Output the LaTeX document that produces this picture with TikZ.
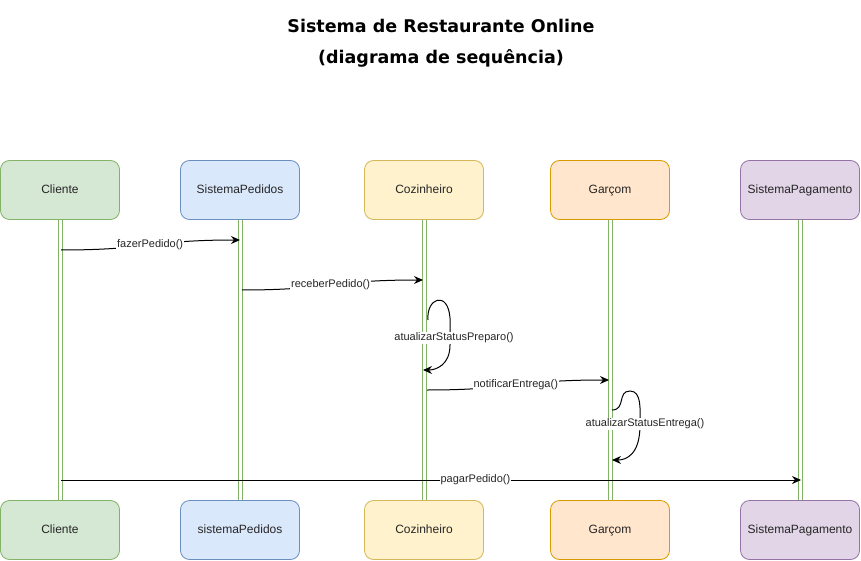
\documentclass[tikz,border=0pt]{standalone}
\usepackage{fontspec}
\setmainfont{Liberation Sans}
\newfontfamily\titlefont{DejaVu Sans}
\usetikzlibrary{arrows.meta}
\definecolor{gfill}{HTML}{D5E8D4}\definecolor{gline}{HTML}{82B366}
\definecolor{bfill}{HTML}{DAE8FC}\definecolor{bline}{HTML}{6C8EBF}
\definecolor{yfill}{HTML}{FFF2CC}\definecolor{yline}{HTML}{D6B656}
\definecolor{ofill}{HTML}{FFE6CC}\definecolor{oline}{HTML}{D79B00}
\definecolor{pfill}{HTML}{E1D5E7}\definecolor{pline}{HTML}{9673A6}
\tikzset{
  actor/.style={draw, rounded corners=9pt, minimum width=119pt, minimum height=59pt, inner sep=0pt, line width=0.8pt, font=\fontsize{12}{14}\selectfont, text=black!85, text height=9pt, text depth=2.5pt},
  lifeline/.style={draw=gline, line width=0.8pt},
  msg/.style={draw=black, line width=1pt, -{Stealth[length=9pt,width=8pt]}},
  lbl/.style={fill=white, inner sep=1pt, font=\fontsize{11}{13}\selectfont, text=black!85}
}
\begin{document}
\begin{tikzpicture}[x=1pt,y=-1pt]
\useasboundingbox (0,0) rectangle (861,561);
\node[font=\titlefont\bfseries\fontsize{17.5}{20}\selectfont, align=center] (title) at (441,43) {Sistema de Restaurante Online\\[11pt](diagrama de sequência)};
% top actors
\node[actor, fill=gfill, draw=gline] (c1) at (60,190) {Cliente};
\node[actor, fill=bfill, draw=bline] (s1) at (240,190) {SistemaPedidos};
\node[actor, fill=yfill, draw=yline] (k1) at (424,190) {Cozinheiro};
\node[actor, fill=ofill, draw=oline] (g1) at (610,190) {Garçom};
\node[actor, fill=pfill, draw=pline] (p1) at (800,190) {SistemaPagamento};
% bottom actors
\node[actor, fill=gfill, draw=gline] (c2) at (60,530) {Cliente};
\node[actor, fill=bfill, draw=bline] (s2) at (240,530) {sistemaPedidos};
\node[actor, fill=yfill, draw=yline] (k2) at (424,530) {Cozinheiro};
\node[actor, fill=ofill, draw=oline] (g2) at (610,530) {Garçom};
\node[actor, fill=pfill, draw=pline] (p2) at (800,530) {SistemaPagamento};
% lifelines (double)
\foreach \a/\b in {c1/c2,s1/s2,k1/k2,g1/g2,p1/p2}{
  \draw[lifeline] ([xshift=-2pt]\a.south) -- ([xshift=-2pt]\b.north);
  \draw[lifeline] ([xshift=2pt]\a.south) -- ([xshift=2pt]\b.north);
}
% message points
\coordinate (m1a) at (61,250); \coordinate (m1b) at (240,240);
\coordinate (m2a) at (242,290); \coordinate (m2b) at (423,280);
\coordinate (m3a) at (428,320); \coordinate (m3b) at (423,370);
\coordinate (m4a) at (427,390); \coordinate (m4b) at (609,380);
\coordinate (m5a) at (612,410); \coordinate (m5b) at (612,460);
\coordinate (m6a) at (61,480); \coordinate (m6b) at (801,480);
% messages
\draw[msg] (m1a) .. controls (150,250) and (150,240) .. node[lbl] (l1) {fazerPedido()} (m1b);
\draw[msg] (m2a) .. controls (330,290) and (330,280) .. node[lbl] (l2) {receberPedido()} (m2b);
\draw[msg] (m3a) .. controls (426,298) and (448,290) .. (450,318) -- (450,345) .. controls (450,365) and (436,370) .. (m3b);
\node[lbl] (l3) at (454,338) {atualizarStatusPreparo()};
\draw[msg] (m4a) .. controls (515,390) and (515,380) .. node[lbl] (l4) {notificarEntrega()} (m4b);
\draw[msg] (m5a) .. controls (626,410) and (617,391) .. (630,391) .. controls (642,391) and (640,410) .. (640,425) .. controls (640,455) and (626,460) .. (m5b);
\node[lbl] (l5) at (645,424) {atualizarStatusEntrega()};
\draw[msg] (m6a) -- node[lbl, pos=0.56] (l6) {pagarPedido()} (m6b);
\end{tikzpicture}
\end{document}
